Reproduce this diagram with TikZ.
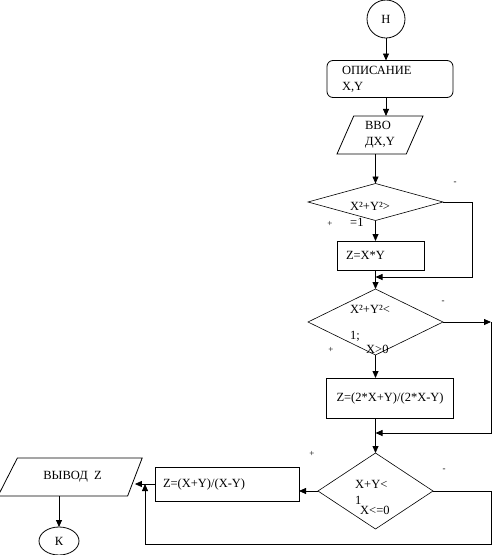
\documentclass[tikz,border=0pt]{standalone}
\usepackage{fontspec}
\setmainfont{Liberation Serif}
\usetikzlibrary{shapes.geometric,arrows.meta}

\tikzset{
  box/.style={draw, line width=0.8pt, outer sep=0pt, align=left},
  dec/.style={draw, diamond, line width=0.6pt, inner sep=0pt, outer sep=0pt},
  io/.style={draw, trapezium, trapezium stretches=true, line width=0.8pt, outer sep=0pt, align=left},
  term/.style={draw, ellipse, line width=0.8pt, inner sep=2pt, outer sep=0pt},
  arr/.style={line width=0.8pt, -{Triangle[length=7pt,width=6pt]}},
  line/.style={line width=0.8pt},
  cond/.style={anchor=base west, align=left, inner sep=0pt},
  sign/.style={font=\fontsize{9}{9}\selectfont, inner sep=0pt},
}

\begin{document}
\begin{tikzpicture}[x=1pt, y=-1pt, font=\fontsize{12.5}{16}\selectfont]
    \newcommand{\railx}{491}
    \useasboundingbox (0,0) rectangle (492,555);

    % blocks
    \node[term, minimum width=38, minimum height=38] (start) at (386,19) {Н};
    \node[box, rounded corners=6pt, minimum width=126, minimum height=37, text width=96, inner xsep=15] (descr) at (390,79) {ОПИСАНИЕ\\X,Y};
    \node[io, trapezium left angle=71, trapezium right angle=109, minimum width=86, minimum height=38] (input) at (380,135) {ВВО\\ДX,Y};

    \node[dec, minimum width=135, minimum height=37] (d1) at (375.5,202) {};
    \node[cond] (d1t) at (350,226) {X²+Y²>\\=1};
    \node[box, minimum width=87, minimum height=29, text width=69, inner xsep=9] (p1) at (380.5,255.5) {Z=X*Y};

    \node[dec, minimum width=135, minimum height=66] (d2) at (375.5,322) {};
    \node[cond, font=\fontsize{12.5}{14}\selectfont] (d2t) at (350,353) {X²+Y²<\\[12pt]1;\\\hspace*{16pt}X>0};
    \node[box, minimum width=127, minimum height=40, text width=117, inner xsep=5] (p2) at (390,398) {\hspace*{5pt}Z=(2*X+Y)/(2*X-Y)};

    \node[dec, minimum width=115, minimum height=76] (d3) at (375.5,491) {};
    \node[cond, font=\fontsize{12.5}{14}\selectfont] (d3t) at (355,514) {X+Y<\\[2pt]1\\[-4pt]\hspace*{5pt}X<=0};
    \node[box, minimum width=144, minimum height=34, text width=128, inner xsep=8] (p3) at (227,484) {Z=(X+Y)/(X-Y)};

    \node[io, trapezium left angle=57, trapezium right angle=116, minimum width=145, minimum height=38] (out) at (72.5,477) {ВЫВОД\ \ Z};
    \node[term, minimum width=40, minimum height=28] (end) at (59,541) {К};

    % junctions
    \coordinate (r1) at (472,277);
    \coordinate (j1) at (d1 |- r1);
    \coordinate (r2) at (\railx,322);
    \coordinate (j2) at (375.5,433);
    \coordinate (r3) at (\railx,544);
    \coordinate (j3) at (145,484);

    % connectors
    \draw[arr] (start) -- (start |- descr.north);
    \draw[arr] (start |- descr.south) -- (start |- input.north);
    \draw[arr] (d1 |- input.south) -- (d1.north);
    \draw[arr] (d1.east) -| (r1) -- (j1);
    \draw[arr] (d1.south) -- (d1.south |- p1.north);
    \draw[line] (d1 |- p1.south) -- (j1);
    \draw[arr] (j1) -- (d2.north);
    \draw[arr] (d2.east) -- (r2);
    \draw[arr] (r2) -- (r2 |- j2) -- (j2);
    \draw[arr] (d2.south) -- (d2.south |- p2.north);
    \draw[line] (d2 |- p2.south) -- (j2);
    \draw[arr] (j2) -- (d3.north);
    \draw[arr] (d3.west) -- (d3.west -| p3.east);
    \draw[arr] (p3.west) -- (p3.west -| out.east);
    \draw[arr] (d3.east) -| (r3) -- (r3 -| j3) -- (j3);
    \draw[arr] (end |- out.south) -- (end.north);

    % signs
    \node[sign] (d1no) at (455,183) {-};
    \node[sign] (d1yes) at (330,224) {+};
    \node[sign] (d2no) at (443,302) {-};
    \node[sign] (d2yes) at (331,350) {+};
    \node[sign] (d3yes) at (312,454) {+};
    \node[sign] (d3no) at (444,470) {-};
\end{tikzpicture}
\end{document}
